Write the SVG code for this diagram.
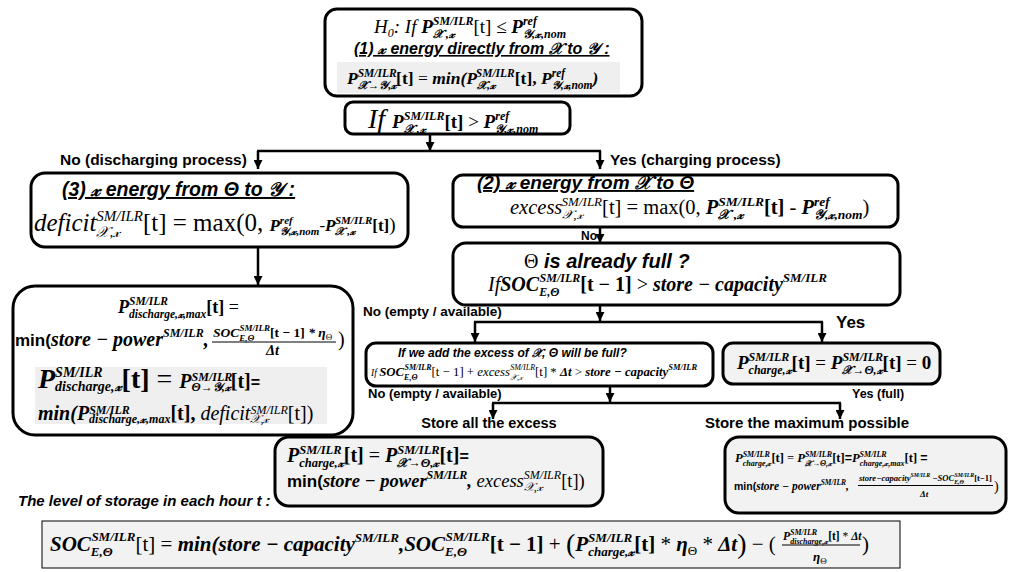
<svg xmlns="http://www.w3.org/2000/svg" width="1013" height="572" viewBox="0 0 1013 572">
<defs>
<style>
.b{font-family:"Liberation Serif","DejaVu Serif",serif;font-weight:bold;font-style:italic}
.i{font-family:"Liberation Serif","DejaVu Serif",serif;font-weight:normal;font-style:italic}
.r{font-family:"Liberation Serif","DejaVu Serif",serif;font-weight:normal;font-style:normal}
.rb{font-family:"Liberation Serif","DejaVu Serif",serif;font-weight:bold;font-style:normal}
.lbl{font-family:"Liberation Sans",Arial,sans-serif;font-weight:bold;font-style:normal}
.ttl{font-family:"Liberation Sans",Arial,sans-serif;font-weight:bold;font-style:italic;text-decoration:underline}
.box{fill:#fff;stroke:#000;stroke-width:3}
.gbox{fill:#f2f2f2;stroke:#000;stroke-width:3}
.inner{fill:#efefef}
.conn{stroke:#000;stroke-width:2.5;fill:none}
.frac{stroke:#000;stroke-width:1}
</style>
<marker id="ah" viewBox="0 0 10 10" refX="10" refY="5" markerWidth="9" markerHeight="9" markerUnits="userSpaceOnUse" orient="auto"><path d="M0,0 L10,5 L0,10 z" fill="#000"/></marker>
</defs>
<rect width="1013" height="572" fill="#fff"/>

<g id="connectors">
<path class="conn" d="M430,134 V151" marker-end="url(#ah)"/>
<path class="conn" d="M257,151 H601"/>
<path class="conn" d="M258,151 V169" marker-end="url(#ah)"/>
<path class="conn" d="M600,151 V169" marker-end="url(#ah)"/>
<path class="conn" d="M258,247 V285" marker-end="url(#ah)"/>
<path class="conn" d="M600,227 V243" marker-end="url(#ah)"/>
<path class="conn" d="M600,305 V321" marker-end="url(#ah)"/>
<path class="conn" d="M474,322 H823"/>
<path class="conn" d="M475,322 V342" marker-end="url(#ah)"/>
<path class="conn" d="M822,322 V342" marker-end="url(#ah)"/>
<path class="conn" d="M610,386 V402" marker-end="url(#ah)"/>
<path class="conn" d="M492,403 H841"/>
<path class="conn" d="M493,403 V419" marker-end="url(#ah)"/>
<path class="conn" d="M840,403 V419" marker-end="url(#ah)"/>
<text x="60" y="165" class="lbl" font-size="15.5">No (discharging process)</text>
<text x="610" y="165" class="lbl" font-size="15.5">Yes (charging process)</text>
<text x="581" y="240" class="lbl" font-size="12">No</text>
<text x="363" y="316" class="lbl" font-size="13.5">No (empty / available)</text>
<text x="836" y="328" class="lbl" font-size="17">Yes</text>
<text x="368" y="398" class="lbl" font-size="13">No (empty / available)</text>
<text x="852" y="398" class="lbl" font-size="12.5">Yes (full)</text>
<text x="489" y="428" class="lbl" font-size="14.5" text-anchor="middle">Store all the excess</text>
<text x="807" y="428" class="lbl" font-size="15" text-anchor="middle">Store the maximum possible</text>
</g>

<g id="n1-direct">
<rect class="box" x="325" y="9" width="317" height="87" rx="12"/>
<rect class="inner" x="337" y="62" width="283" height="31"/>
<text x="374" y="33" class="i" font-size="19">H<tspan font-size="12" dy="4">0</tspan><tspan dy="-4">: If </tspan><tspan class="b">P</tspan><tspan class="b" font-size="12" dy="5">𝒳 ,𝓍</tspan><tspan class="b" font-size="12" dx="-22" dy="-13">SM/ILR</tspan><tspan class="r" dy="8">[t] ≤ </tspan><tspan class="b">P</tspan><tspan class="b" font-size="12" dy="-8">ref</tspan><tspan class="b" font-size="12" dx="-14" dy="13">𝒴,𝓍,nom</tspan></text>
<text x="354" y="54" class="ttl" font-size="16">(1) 𝓍 energy directly from 𝒳 to 𝒴 :</text>
<text x="347" y="84" class="b" font-size="17.5">P<tspan font-size="11.5" dy="-7">SM/ILR</tspan><tspan font-size="11.5" dx="-39" dy="12">𝒳→𝒴,𝓍</tspan><tspan class="rb" dy="-5">[t] </tspan><tspan class="r">= </tspan>min(P<tspan font-size="11.5" dy="5">𝒳,𝓍</tspan><tspan font-size="11.5" dx="-19" dy="-12">SM/ILR</tspan><tspan class="rb" dy="7">[t], </tspan>P<tspan font-size="11.5" dy="-7">ref</tspan><tspan font-size="11.5" dx="-13.5" dy="12">𝒴,𝓍,nom</tspan><tspan dy="-5">)</tspan></text>
</g>

<g id="n2-test">
<rect class="box" x="345" y="102" width="225" height="32" rx="8"/>
<text x="368" y="128" class="b" font-size="19"><tspan class="i" font-size="28">If </tspan>P<tspan font-size="12" dy="5">𝒳 ,𝓍</tspan><tspan font-size="12" dx="-22" dy="-13">SM/ILR</tspan><tspan class="rb" dy="8">[t] </tspan><tspan class="r">&gt; </tspan>P<tspan font-size="12" dy="-8">ref</tspan><tspan font-size="12" dx="-14" dy="13">𝒴,𝓍,nom</tspan></text>
</g>

<g id="n3-deficit">
<rect class="box" x="31" y="173" width="377" height="74" rx="14"/>
<text x="62" y="196" class="ttl" font-size="19.5">(3) 𝓍 energy from Θ to 𝒴 :</text>
<text x="34" y="231" class="i" font-size="25">deficit<tspan font-size="15" dy="6">𝒳,𝓍</tspan><tspan font-size="15" dx="-24" dy="-16">SM/ILR</tspan><tspan class="r" dy="10">[t] = max(0, </tspan><tspan class="b" font-size="17">P</tspan><tspan class="b" font-size="11" dy="-7">ref</tspan><tspan class="b" font-size="11" dx="-13" dy="11">𝒴,𝓍,nom</tspan><tspan class="r" font-size="17" dy="-4">-</tspan><tspan class="b" font-size="17">P</tspan><tspan class="b" font-size="11" dy="4">𝒳 ,𝓍</tspan><tspan class="b" font-size="11" dx="-20" dy="-11">SM/ILR</tspan><tspan class="rb" font-size="17" dy="7">[t]</tspan><tspan class="r" font-size="19">)</tspan></text>
</g>

<g id="n4-discharge">
<rect class="box" x="13" y="286" width="340" height="149" rx="22"/>
<rect class="inner" x="35" y="367" width="292" height="57"/>
<text x="118" y="313" class="b" font-size="18">P<tspan font-size="11.5" dy="-8">SM/ILR</tspan><tspan font-size="11.5" dx="-39" dy="13">discharge,𝓍,max</tspan><tspan class="rb" dy="-5">[t] </tspan><tspan class="r">=</tspan></text>
<text x="15" y="346" class="b" font-size="20"><tspan class="lbl" font-size="17">min(</tspan>store − power<tspan font-size="12" dy="-9">SM/ILR</tspan><tspan dy="9">,</tspan></text>
<text x="213" y="337" class="b" font-size="13.5">SOC<tspan font-size="9" dy="3.5">E,Θ</tspan><tspan font-size="9" dx="-14.8" dy="-10">SM/ILR</tspan><tspan class="rb" dy="6.5">[t − 1] </tspan>* η<tspan class="r" font-size="9" dy="3">Θ</tspan></text>
<line class="frac" x1="212" y1="342" x2="336" y2="342"/>
<text x="266" y="355" class="b" font-size="14.5">Δt</text>
<text x="338" y="346" class="r" font-size="20">)</text>
<text x="38" y="388" class="b" font-size="28">P<tspan font-size="14" dy="-11">SM/ILR</tspan><tspan font-size="14" dx="-47.5" dy="14">discharge,𝓍</tspan><tspan class="rb" dy="-3">[t] </tspan><tspan class="r">= </tspan><tspan font-size="20">P</tspan><tspan font-size="12" dy="-7">SM/ILR</tspan><tspan font-size="12" dx="-40.7" dy="10">Θ→𝒴,𝓍</tspan><tspan class="rb" font-size="20" dy="-3">[t]</tspan><tspan class="lbl" font-size="16">=</tspan></text>
<text x="38" y="420" class="b" font-size="20">min(P<tspan font-size="12" dy="-6">SM/ILR</tspan><tspan font-size="12" dx="-40.7" dy="9">discharge,𝓍,max</tspan><tspan class="rb" dy="-3">[t], </tspan><tspan class="i"> deficit</tspan><tspan class="i" font-size="12" dy="3">𝒳,𝓍</tspan><tspan class="i" font-size="12" dx="-19" dy="-9">SM/ILR</tspan><tspan class="r" dy="6">[t])</tspan></text>
</g>

<g id="n5-excess">
<rect class="box" x="453" y="175" width="445" height="52" rx="10"/>
<text x="477" y="189" class="ttl" font-size="19">(2) 𝓍 energy from 𝒳 to Θ</text>
<text x="510" y="214" class="i" font-size="20.5">excess<tspan font-size="13" dy="5">𝒳,𝓍</tspan><tspan font-size="13" dx="-21" dy="-13">SM/ILR</tspan><tspan class="r" dy="8">[t] = max(0, </tspan><tspan class="b">P</tspan><tspan class="b" font-size="13.5" dy="5">𝒳 ,𝓍</tspan><tspan class="b" font-size="13.5" dx="-25" dy="-13">SM/ILR</tspan><tspan class="rb" dy="8">[t] </tspan><tspan class="r">- </tspan><tspan class="b">P</tspan><tspan class="b" font-size="13.5" dy="-8">ref</tspan><tspan class="b" font-size="13.5" dx="-15.7" dy="13">𝒴,𝓍,nom</tspan><tspan class="r" dy="-5">)</tspan></text>
</g>

<g id="n6-full">
<rect class="box" x="453" y="243" width="447" height="62" rx="13"/>
<text x="524" y="268" class="ttl" font-size="20" style="text-decoration:none"><tspan class="r">Θ</tspan>  is already full ?</text>
<text x="488" y="291" class="i" font-size="20">If<tspan class="b">SOC</tspan><tspan class="b" font-size="12" dy="5">E,Θ</tspan><tspan class="b" font-size="12" dx="-19.7" dy="-14">SM/ILR</tspan><tspan class="rb" dy="9">[t − 1] </tspan><tspan class="r">&gt; </tspan><tspan class="b">store − capacity</tspan><tspan class="b" font-size="13" dy="-9">SM/ILR</tspan></text>
</g>

<g id="n7-addexcess">
<rect class="box" x="366" y="343" width="347" height="43" rx="10"/>
<text x="398" y="357" class="ttl" font-size="12" style="text-decoration:none">If we add the excess of 𝒳, Θ will be full?</text>
<text x="371" y="376" class="b" font-size="12.8"><tspan class="i" font-size="9.5">If </tspan>SOC<tspan font-size="8" dy="3.5">E,Θ</tspan><tspan font-size="8" dx="-13.1" dy="-9.5">SM/ILR</tspan><tspan class="r" dy="6">[t − 1] + </tspan><tspan class="i">excess</tspan><tspan class="i" font-size="8" dy="3.5">𝒳,𝓍</tspan><tspan class="i" font-size="8" dx="-12.8" dy="-9.5">SM/ILR</tspan><tspan class="r" dy="6">[t] * </tspan>Δt<tspan class="r"> &gt; </tspan>store − capacity<tspan font-size="8.5" dy="-6">SM/ILR</tspan></text>
</g>

<g id="n8-nocharge">
<rect class="gbox" x="723" y="343" width="217" height="41" rx="10"/>
<text x="737" y="369" class="b" font-size="19">P<tspan font-size="12" dy="-8">SM/ILR</tspan><tspan font-size="12" dx="-40.7" dy="13">charge,𝓍</tspan><tspan class="rb" dy="-5">[t] </tspan><tspan class="r">= </tspan>P<tspan font-size="12" dy="-8">SM/ILR</tspan><tspan font-size="12" dx="-40.7" dy="13">𝒳→Θ,𝓍</tspan><tspan class="rb" dy="-5">[t] </tspan><tspan class="r">= </tspan><tspan class="rb">0</tspan></text>
</g>

<g id="n9-storeall">
<rect class="gbox" x="275" y="437" width="328" height="69" rx="14"/>
<text x="287" y="462" class="b" font-size="20">P<tspan font-size="12.5" dy="-8.5">SM/ILR</tspan><tspan font-size="12.5" dx="-42.4" dy="13.5">charge,𝓍</tspan><tspan class="rb" dy="-5">[t] </tspan><tspan class="r">= </tspan>P<tspan font-size="12.5" dy="-8.5">SM/ILR</tspan><tspan font-size="12.5" dx="-42.4" dy="13.5">𝒳→Θ,𝓍</tspan><tspan class="rb" dy="-5">[t]</tspan><tspan class="lbl" font-size="16">=</tspan></text>
<text x="287" y="487" class="b" font-size="18.5"><tspan class="lbl" font-size="17">min(</tspan>store − power<tspan font-size="12" dy="-8">SM/ILR</tspan><tspan dy="8">, </tspan><tspan class="i">excess</tspan><tspan class="i" font-size="12" dy="4">𝒳,𝓍</tspan><tspan class="i" font-size="12" dx="-19" dy="-12">SM/ILR</tspan><tspan class="r" dy="8">[t])</tspan></text>
</g>

<g id="n10-storemax">
<rect class="gbox" x="725" y="437" width="281" height="76" rx="14"/>
<text x="735" y="462" class="b" font-size="12.5">P<tspan font-size="8" dy="-5.5">SM/ILR</tspan><tspan font-size="8" dx="-27" dy="9">charge,𝓍</tspan><tspan class="rb" dy="-3.5">[t] </tspan><tspan class="r">= </tspan>P<tspan font-size="8" dy="-5.5">SM/ILR</tspan><tspan font-size="8" dx="-27" dy="9">𝒳→Θ,𝓍</tspan><tspan class="rb" dy="-3.5">[t]</tspan><tspan class="lbl">=</tspan>P<tspan font-size="8" dy="-5.5">SM/ILR</tspan><tspan font-size="8" dx="-27" dy="9">charge,𝓍,max</tspan><tspan class="rb" dy="-3.5">[t] </tspan><tspan class="lbl">=</tspan></text>
<text x="734" y="490" class="b" font-size="11.5"><tspan class="lbl" font-size="10.5">min(</tspan>store − power<tspan font-size="7.5" dy="-5">SM/ILR</tspan><tspan dy="5">,</tspan></text>
<text x="859" y="481" class="b" font-size="8.6">store−capacity<tspan font-size="5.8" dy="-4">SM/ILR</tspan><tspan dy="4"> −SOC</tspan><tspan font-size="5.8" dy="2.5">E,Θ</tspan><tspan font-size="5.8" dx="-9.5" dy="-6.5">SM/ILR</tspan><tspan class="rb" dy="4">[t−1]</tspan></text>
<line class="frac" x1="858" y1="485.5" x2="993" y2="485.5"/>
<text x="920" y="497" class="b" font-size="9">Δt</text>
<text x="994" y="491" class="r" font-size="14">)</text>
</g>

<g id="n11-soc">
<text x="18" y="506" class="ttl" font-size="15" style="text-decoration:none">The level of storage in each hour t :</text>
<rect x="42" y="521" width="858" height="47" fill="#f2f2f2" stroke="#000" stroke-width="1"/>
<text x="50" y="551" class="b" font-size="21">SOC<tspan font-size="13" dy="5">E,Θ</tspan><tspan font-size="13" dx="-21.3" dy="-15">SM/ILR</tspan><tspan class="r" dy="10">[t] = </tspan>min(store − capacity<tspan font-size="13" dy="-9">SM/ILR</tspan><tspan dy="9">,</tspan>SOC<tspan font-size="13" dy="5">E,Θ</tspan><tspan font-size="13" dx="-21.3" dy="-15">SM/ILR</tspan><tspan class="rb" dy="10">[t − 1] </tspan><tspan class="r">+ </tspan><tspan class="r" font-size="28" dy="2">(</tspan><tspan dy="-2">P</tspan><tspan font-size="13" dy="-9">SM/ILR</tspan><tspan font-size="13" dx="-44" dy="14">charge,𝓍</tspan><tspan class="rb" dy="-5">[t] </tspan><tspan class="r">* </tspan>η<tspan class="r" font-size="13" dy="4">Θ</tspan><tspan class="r" dy="-4"> * </tspan>Δt<tspan class="r" font-size="28" dy="2">)</tspan><tspan class="r" dy="-2"> − (</tspan></text>
<text x="783" y="540" class="b" font-size="11.5">P<tspan font-size="8" dy="-5">SM/ILR</tspan><tspan font-size="8" dx="-27" dy="8.5">discharge,𝓍</tspan><tspan class="rb" dy="-3.5">[t] </tspan><tspan class="r">* </tspan>Δt</text>
<line class="frac" x1="782" y1="545" x2="860" y2="545"/>
<text x="813" y="561" class="b" font-size="13">η<tspan class="r" font-size="9" dy="3">Θ</tspan></text>
<text x="862" y="551" class="r" font-size="21">)</text>
</g>
</svg>
